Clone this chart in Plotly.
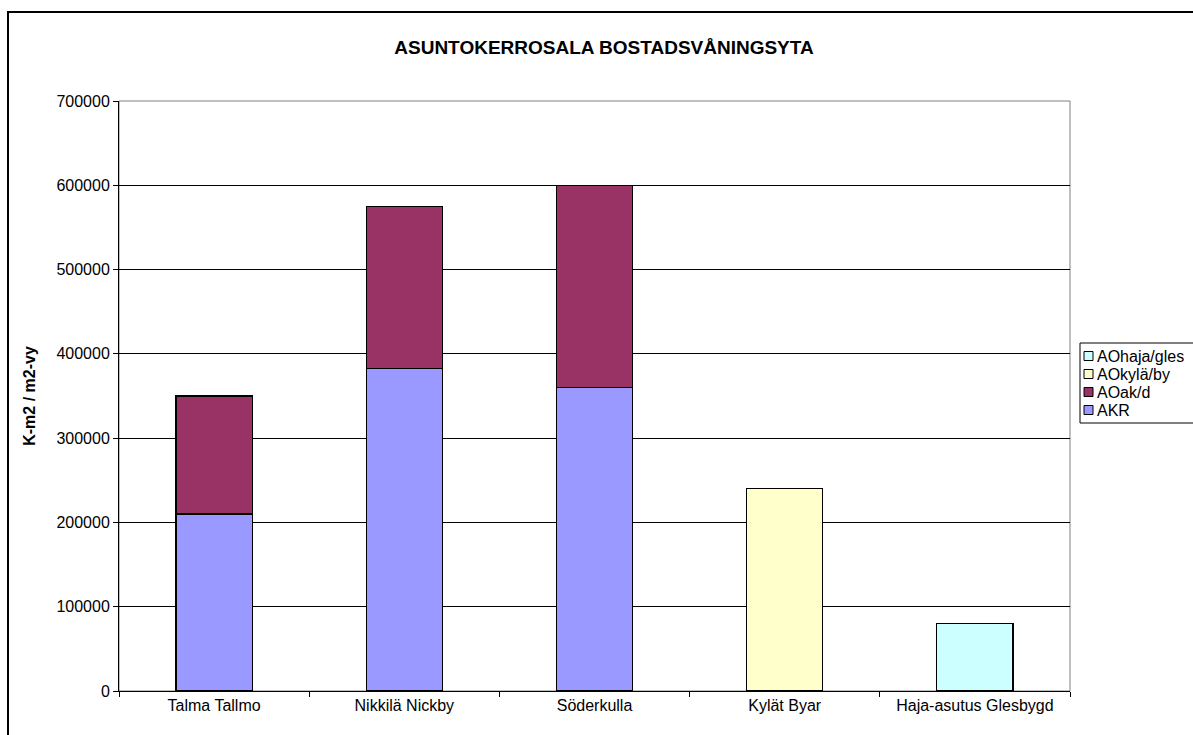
import plotly.graph_objects as go

# Housing floor area per district (K-m2 / m2-vy)
categories = ["Talma Tallmo", "Nikkilä Nickby", "Söderkulla", "Kylät Byar", "Haja-asutus Glesbygd"]
akr = [210000, 383000, 360000, None, None]
ao_ak_d = [140000, 192000, 240000, None, None]
ao_kyla_by = [None, None, None, 240000, None]
ao_haja_gles = [None, None, None, None, 80000]

series = [
    ("AKR", akr, "#9999FF"),
    ("AOak/d", ao_ak_d, "#993366"),
    ("AOkylä/by", ao_kyla_by, "#FFFFCC"),
    ("AOhaja/gles", ao_haja_gles, "#CCFFFF"),
]

FONT = "Arial, Liberation Sans, sans-serif"

fig = go.Figure()
for name, vals, color in series:
    fig.add_trace(go.Bar(
        x=categories, y=vals, name=name, showlegend=False,
        marker=dict(color=color, line=dict(color="black", width=1.2)),
    ))

# plot-area geometry in pixels
W, H = 1193, 735
L, R, T, B = 119, 1070, 101, 691
pw, ph = R - L, B - T

def px(x):
    return (x - L) / pw

def py(y):
    return (B - y) / ph

shapes = [
    # plot area frame
    dict(type="rect", xref="paper", yref="paper", x0=0, x1=1, y0=0, y1=1,
         line=dict(color="#808080", width=1), layer="below"),
    # outer chart border
    dict(type="rect", xref="paper", yref="paper",
         x0=px(8), x1=px(W + 20), y0=py(H + 20), y1=py(12),
         line=dict(color="black", width=2)),
]
annotations = []

# legend box, entries listed top to bottom in reverse stacking order
leg_left, leg_top, leg_step = 1080, 343, 18
leg_items = list(reversed(series))
leg_bottom = leg_top + 8 + leg_step * len(leg_items)
shapes.append(dict(type="rect", xref="paper", yref="paper",
                   x0=px(leg_left), x1=px(W + 20), y0=py(leg_bottom), y1=py(leg_top),
                   line=dict(color="black", width=1), fillcolor="white"))
for i, (name, _, color) in enumerate(leg_items):
    cy = leg_top + 4 + leg_step * (i + 0.5)
    shapes.append(dict(type="rect", xref="paper", yref="paper",
                       x0=px(leg_left + 4), x1=px(leg_left + 13),
                       y0=py(cy + 4.5), y1=py(cy - 4.5),
                       line=dict(color="black", width=1), fillcolor=color))
    annotations.append(dict(text=name, xref="paper", yref="paper",
                            x=px(leg_left + 15), y=py(cy), xanchor="left",
                            yanchor="middle", showarrow=False,
                            font=dict(size=16, family=FONT, color="black")))

fig.update_layout(
    width=W, height=H,
    margin=dict(l=L, r=W - R, t=T, b=H - B, autoexpand=False),
    barmode="stack", bargap=0.6,
    paper_bgcolor="white", plot_bgcolor="white",
    font=dict(family=FONT, size=16, color="black"),
    title=dict(text="<b>ASUNTOKERROSALA BOSTADSVÅNINGSYTA</b>",
               x=604 / W, xanchor="center", y=1 - 47 / H, yanchor="middle",
               font=dict(size=19, family=FONT, color="black")),
    showlegend=False,
    xaxis=dict(showline=True, linecolor="black", linewidth=1,
               ticks="outside", ticklen=5, tickcolor="black",
               tickson="boundaries", showgrid=False,
               tickfont=dict(size=16)),
    yaxis=dict(range=[0, 700000], dtick=100000, tickformat="d",
               showline=True, linecolor="black", linewidth=1,
               ticks="outside", ticklen=5, tickcolor="black",
               showgrid=True, gridcolor="black", gridwidth=1,
               zeroline=False, tickfont=dict(size=16),
               title=dict(text="<b>K-m2 / m2-vy</b>", standoff=16,
                          font=dict(size=16))),
    shapes=shapes,
    annotations=annotations,
)

fig.write_html("out.html")
